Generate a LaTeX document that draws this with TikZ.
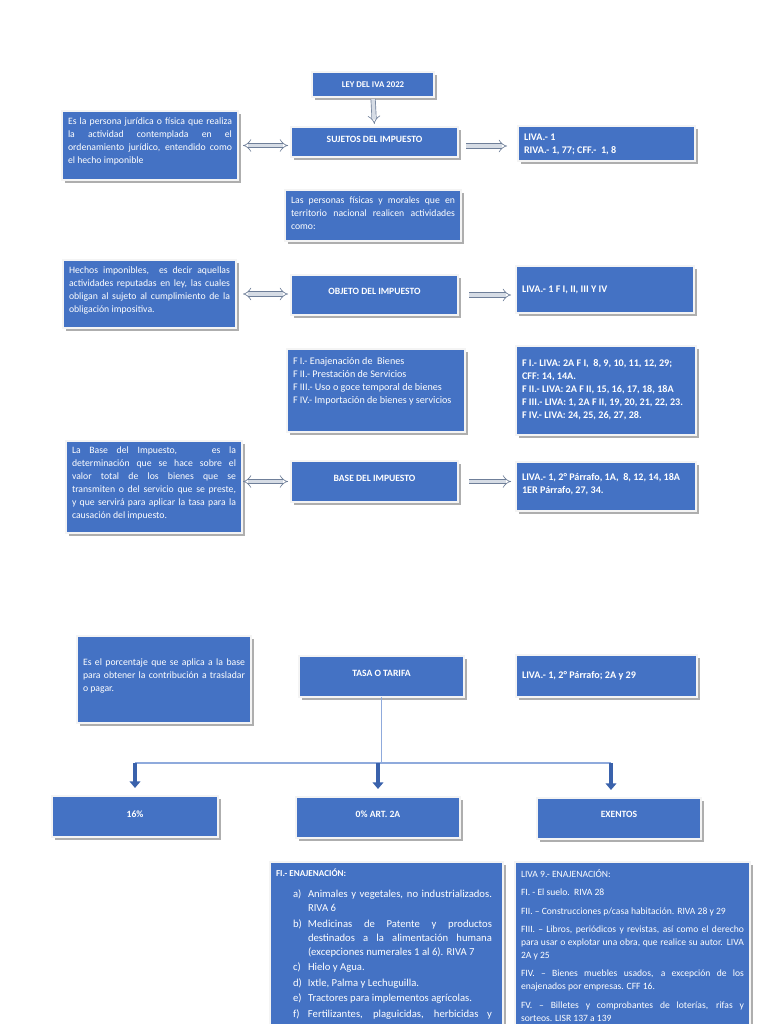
\documentclass[tikz,border=0pt]{standalone}
\usepackage{fontspec}
\setmainfont{Carlito}
\usetikzlibrary{arrows.meta,calc}
\definecolor{boxblue}{HTML}{4472C4}
\definecolor{edgec}{HTML}{F4F4F4}
\definecolor{shadc}{HTML}{AEAEAE}
\definecolor{arrfill}{HTML}{D6DCE5}
\definecolor{arredge}{HTML}{6F7F99}
\definecolor{linec}{HTML}{8FAADC}
\definecolor{darrow}{HTML}{3A62AC}
\newlength\upx \setlength\upx{0.75pt}
\newcommand\bfont{\fontsize{6.6}{9.75}\selectfont}
\newcommand\titf{\fontsize{7.2}{9.75}\selectfont\bfseries}
\newcommand\bodyf{\fontsize{7.3}{9.75}\selectfont}
\newcommand\fracf{\fontsize{7.6}{9.75}\selectfont}
\newcommand\reff{\fontsize{7.6}{9.75}\selectfont\bfseries}
\newcommand\mkbox[7]{%
  \fill[shadc] (#2+3,#3+3) rectangle ++(#4,#5);
  \node[bluebox, anchor=north west] (#1) at (#2,#3)
    {\parbox[t][\dimexpr #5\upx\relax][t]{\dimexpr #4\upx-12\upx\relax}{\vspace*{#6\upx}\bfont #7}};
}
\tikzset{
  bluebox/.style={fill=boxblue, draw=edgec, line width=0.8pt, inner xsep=4.5pt, inner ysep=0pt, outer sep=0pt, text=white},
  hollow/.style={draw=arredge, line width=0.5pt, double=arrfill, double distance=2.8pt, -{Implies}},
  hollow2/.style={draw=arredge, line width=0.5pt, double=arrfill, double distance=2.8pt, {Implies}-{Implies}},
  tline/.style={draw=linec, line width=1.1pt},
  barrow/.style={draw=darrow, line width=3.5pt, -{Triangle[width=8pt,length=5pt]}}
}
\begin{document}
\begin{tikzpicture}[x=0.75pt,y=-0.75pt]
\useasboundingbox (0,0) rectangle (768,1024);
\fill[white] (0,0) rectangle (768,1024);
\clip (0,0) rectangle (768,1024);

\mkbox{ley}{312}{72}{122}{25}{10}{\centering\bfseries LEY DEL IVA 2022\par}
\mkbox{suj}{291}{127}{167}{30}{9.5}{\centering\titf SUJETOS DEL IMPUESTO\par}
\mkbox{def1}{62}{111}{176}{69}{6.5}{\bodyf Es la persona jurídica o física que realiza\linebreak la actividad contemplada en el\linebreak ordenamiento jurídico, entendido como\linebreak el hecho imponible\par}
\mkbox{ref1}{518}{126}{177}{35}{8}{\raggedright\reff LIVA.- 1\\ RIVA.- 1, 77; CFF.-\ \ 1, 8\par}
\mkbox{pers}{285}{190}{176}{51}{6.5}{\bodyf Las personas físicas y morales que en\linebreak territorio nacional realicen actividades\linebreak como:\par}
\mkbox{def2}{63}{260}{173}{68}{7}{\bodyf Hechos imponibles,\ \ es decir aquellas\linebreak actividades reputadas en ley, las cuales\linebreak obligan al sujeto al cumplimiento de la\linebreak obligación impositiva.\par}
\mkbox{obj}{291}{275}{167}{40}{13.5}{\centering\titf OBJETO DEL IMPUESTO\par}
\mkbox{ref2}{516}{266}{178}{47}{20}{\raggedright\reff LIVA.- 1 F I, II, III Y IV\par}
\mkbox{fracs}{287}{349}{178}{83}{8.5}{\raggedright\fracf F I.- Enajenación de\ \ Bienes\\ F II.- Prestación de Servicios\\ F III.- Uso o goce temporal de bienes\\ F IV.- Importación de bienes y servicios\par}
\mkbox{ref3}{516}{346}{180}{89}{13.5}{\raggedright\reff F I.- LIVA: 2A F I,\ \ 8, 9, 10, 11, 12, 29;\\ CFF: 14, 14A.\\ F II.- LIVA: 2A F II, 15, 16, 17, 18, 18A\\ F III.- LIVA: 1, 2A F II, 19, 20, 21, 22, 23.\\ F IV.- LIVA: 24, 25, 26, 27, 28.\par}
\mkbox{def3}{66}{441}{176}{92}{5.5}{\bodyf La Base del Impuesto,\ \ \ \ es la\linebreak determinación que se hace sobre el\linebreak valor total de los bienes que se\linebreak transmiten o del servicio que se preste,\linebreak y que servirá para aplicar la tasa para la\linebreak causación del impuesto.\par}
\mkbox{base}{291}{461}{167}{41}{14.5}{\centering\titf BASE DEL IMPUESTO\par}
\mkbox{ref4}{516}{462}{180}{49}{11.5}{\raggedright\reff LIVA.- 1, 2° Párrafo, 1A,\ \ 8, 12, 14, 18A\\ 1ER Párrafo, 27, 34.\par}
\mkbox{def4}{77}{636}{174}{87}{22.5}{\bodyf Es el porcentaje que se aplica a la base\linebreak para obtener la contribución a trasladar\linebreak o pagar.\par}
\mkbox{tasa}{299}{656}{165}{41}{14.5}{\centering\titf TASA O TARIFA\par}
\mkbox{ref5}{516}{655}{181}{42}{16.5}{\raggedright\reff LIVA.- 1, 2° Párrafo; 2A y 29\par}
\mkbox{b16}{52}{796}{166}{41}{14.5}{\centering\titf 16\%\par}
\mkbox{bzero}{296}{797}{164}{41}{13.5}{\centering\titf 0\% ART. 2A\par}
\mkbox{bexe}{537}{798}{164}{41}{13}{\centering\titf EXENTOS\par}
\mkbox{lista}{270}{862}{233}{180}{5.5}{\fontsize{8}{10.5}\selectfont\parskip=1.5\upx\rightskip=5\upx
  {\fontsize{6.8}{10.5}\selectfont\bfseries FI.- ENAJENACIÓN:\par}\vspace{5.5\upx}
  {\leftskip=32\upx\noindent\llap{\makebox[15\upx][l]{a)}}Animales y vegetales, no industrializados.\linebreak RIVA 6\par}
  {\leftskip=32\upx\noindent\llap{\makebox[15\upx][l]{b)}}Medicinas de Patente y productos\linebreak destinados a la alimentación humana\linebreak (excepciones numerales 1 al 6). RIVA 7\par}
  {\leftskip=32\upx\noindent\llap{\makebox[15\upx][l]{c)}}Hielo y Agua.\par}
  {\leftskip=32\upx\noindent\llap{\makebox[15\upx][l]{d)}}Ixtle, Palma y Lechuguilla.\par}
  {\leftskip=32\upx\noindent\llap{\makebox[15\upx][l]{e)}}Tractores para implementos agrícolas.\par}
  {\leftskip=32\upx\noindent\llap{\makebox[15\upx][l]{f)}}Fertilizantes, plaguicidas, herbicidas y\linebreak\mbox{}\par}}
\mkbox{listb}{515}{862}{235}{180}{2}{\fontsize{7.2}{9.75}\selectfont\parskip=4pt
  LIVA 9.- ENAJENACIÓN:\par
  FI. - El suelo.\ \ RIVA 28\par
  FII. – Construcciones p/casa habitación. RIVA 28 y 29\par
  FIII. – Libros, periódicos y revistas, así como el derecho\linebreak para usar o explotar una obra, que realice su autor. LIVA\linebreak 2A y 25\par
  FIV. – Bienes muebles usados, a excepción de los\linebreak enajenados por empresas. CFF 16.\par
  FV. – Billetes y comprobantes de loterías, rifas y\linebreak sorteos. LISR 137 a 139\par}

% connectors
\draw[hollow, shorten <=1.5pt, shorten >=2.25pt] (ley.south) -- (suj.north);
\draw[hollow2, shorten <=3.75pt, shorten >=2.25pt] (def1.east) -- (def1.east -| suj.west);
\draw[hollow, shorten <=6pt, shorten >=8.25pt] ([yshift=-3pt]suj.east) -- ([yshift=-3pt]suj.east -| ref1.west);
\draw[hollow2, shorten <=5.25pt, shorten >=2.25pt] (def2.east) -- (def2.east -| obj.west);
\draw[hollow, shorten <=8.25pt, shorten >=3.75pt] (obj.east) -- (obj.east -| ref2.west);
\draw[hollow2, shorten <=0.75pt, shorten >=2.25pt] (base.west -| def3.east) -- (base.west);
\draw[hollow, shorten <=8.25pt, shorten >=3.75pt] (base.east) -- (base.east -| ref4.west);

\coordinate (hub) at ($(tasa.south)+(0,66)$);
\coordinate (exa) at ($(bexe.north)+(-8,0)$);
\draw[tline] (tasa.south) -- (hub);
\draw[tline] (hub -| b16.north) -- (hub -| exa);
\draw[barrow, shorten >=6pt] (hub -| b16.north) -- (b16.north);
\draw[barrow, shorten >=6pt] (hub -| bzero.north) -- (bzero.north);
\draw[barrow, shorten >=6pt] (hub -| exa) -- (exa);
\end{tikzpicture}
\end{document}
